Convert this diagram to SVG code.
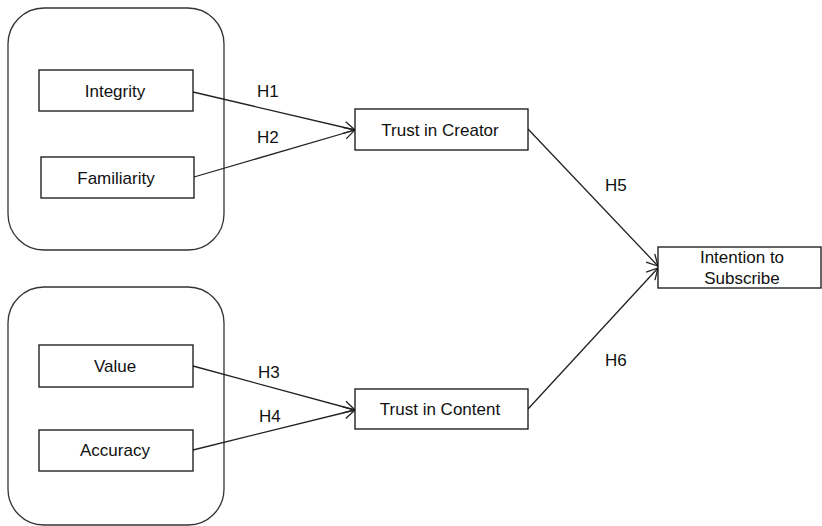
<svg xmlns="http://www.w3.org/2000/svg" width="822" height="526" viewBox="0 0 822 526">
<defs>
<marker id="arr" markerWidth="14" markerHeight="14" refX="12" refY="7" orient="auto" markerUnits="userSpaceOnUse">
<path d="M1,1 L12,7 L1,13" fill="none" stroke="#222" stroke-width="1.3"/>
</marker>
</defs>
<style>
.grp{fill:#fff;stroke:#333;stroke-width:1.3}
.box{fill:#fff;stroke:#111;stroke-width:1.3}
text{font-family:"Liberation Sans",Arial,sans-serif;font-size:17px;fill:#111;text-anchor:middle}
.lbl{text-anchor:start}
.con{stroke:#222;stroke-width:1.3;fill:none;marker-end:url(#arr)}
</style>
<rect width="822" height="526" fill="#fff"/>
<g id="group1"><rect class="grp" x="8" y="8" width="216" height="242" rx="36"/></g>
<g id="group2"><rect class="grp" x="8" y="287" width="216" height="238" rx="36"/></g>
<g id="connectors">
<line class="con" x1="193" y1="92" x2="355" y2="130"/>
<line class="con" x1="194" y1="177" x2="355" y2="130"/>
<line class="con" x1="193" y1="366" x2="355" y2="410"/>
<line class="con" x1="193" y1="450" x2="355" y2="410"/>
<line class="con" x1="528" y1="129" x2="658" y2="266"/>
<line class="con" x1="528" y1="409" x2="658" y2="268"/>
<text class="lbl" x="257" y="97">H1</text>
<text class="lbl" x="257" y="143">H2</text>
<text class="lbl" x="258" y="378">H3</text>
<text class="lbl" x="259" y="422">H4</text>
<text class="lbl" x="605" y="191">H5</text>
<text class="lbl" x="605" y="366">H6</text>
</g>
<g id="integrity"><rect class="box" x="39" y="70" width="154" height="41"/><text x="115" y="97">Integrity</text></g>
<g id="familiarity"><rect class="box" x="41" y="157" width="153" height="41"/><text x="116" y="184">Familiarity</text></g>
<g id="value"><rect class="box" x="39" y="345" width="154" height="42"/><text x="115" y="372">Value</text></g>
<g id="accuracy"><rect class="box" x="39" y="430" width="154" height="41"/><text x="115" y="456">Accuracy</text></g>
<g id="trust-creator"><rect class="box" x="355" y="109" width="173" height="41"/><text x="440" y="136">Trust in Creator</text></g>
<g id="trust-content"><rect class="box" x="355" y="389" width="173" height="40"/><text x="440" y="415">Trust in Content</text></g>
<g id="intention"><rect class="box" x="658" y="247" width="163" height="41"/><text x="742" y="263">Intention to</text><text x="742" y="284">Subscribe</text></g>
</svg>
